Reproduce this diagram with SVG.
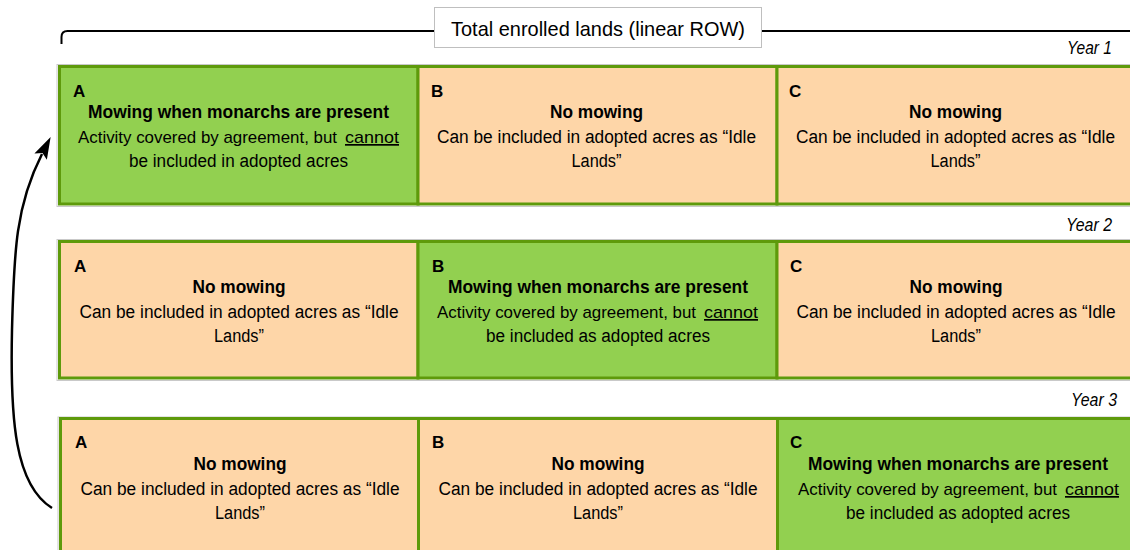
<svg xmlns="http://www.w3.org/2000/svg" width="1130" height="550" viewBox="0 0 1130 550">
<style>
.g{fill:#92D050;stroke:#5E9A0B;stroke-width:3}
.o{fill:#FED6A8;stroke:#5E9A0B;stroke-width:3}
.sh{fill:none;stroke:#C9C9C9;stroke-width:1}
.lbl{font-family:"Liberation Sans",Arial,sans-serif;font-weight:bold;font-size:17px;fill:#000}
.t{font-family:"Liberation Sans",Arial,sans-serif;font-weight:bold;font-size:18px;fill:#000;text-anchor:middle}
.b{font-family:"Liberation Sans",Arial,sans-serif;font-size:18px;fill:#000;text-anchor:middle}
.bs{font-family:"Liberation Sans",Arial,sans-serif;font-size:17px;fill:#000}
.u{text-decoration:underline}
.yr{font-family:"Liberation Sans",Arial,sans-serif;font-style:italic;font-size:18px;fill:#000;text-anchor:end}
.ttl{font-family:"Liberation Sans",Arial,sans-serif;font-size:21px;fill:#000;text-anchor:middle}
.ln{fill:none;stroke:#000;stroke-width:2}
</style>
<defs>
<marker id="ah" viewBox="0 0 22 14" refX="3" refY="7" markerWidth="22" markerHeight="14" markerUnits="userSpaceOnUse" orient="auto">
<path d="M0,0 L22,7 L0,14 L4,7 z" fill="#000"/>
</marker>
</defs>

<g id="connectors">
<path class="ln" d="M61.5,44 L61.5,37 Q61.5,31 67.5,31 H434"/>
<path class="ln" d="M762,31 H1130"/>
<path d="M52,508 C15,485 10,420 12,330 C14,250 16,205 42,154" fill="none" stroke="#000" stroke-width="2.5" marker-end="url(#ah)"/>
</g>

<g id="title">
<rect x="434.5" y="7.5" width="327" height="40" fill="#fff" stroke="#BFBFBF" stroke-width="1"/>
<text class="ttl" x="598" y="36" textLength="294" lengthAdjust="spacingAndGlyphs">Total enrolled lands (linear ROW)</text>
</g>

<g id="year-labels">
<text class="yr" x="1112" y="54" textLength="45" lengthAdjust="spacingAndGlyphs">Year 1</text>
<text class="yr" x="1112" y="231" textLength="46" lengthAdjust="spacingAndGlyphs">Year 2</text>
<text class="yr" x="1117" y="406" textLength="46" lengthAdjust="spacingAndGlyphs">Year 3</text>
</g>

<g id="row-outlines">
<rect class="sh" x="57" y="64.5" width="1080" height="142"/>
<rect class="sh" x="57" y="239.5" width="1080" height="141"/>
<rect class="sh" x="58" y="417" width="1080" height="150"/>
</g>

<!-- Year 1 -->
<g id="y1-a">
<rect class="g" x="59.5" y="66.5" width="358.5" height="137.5"/>
<text class="lbl" x="73" y="97">A</text>
<text class="t" x="238.5" y="118" textLength="301" lengthAdjust="spacingAndGlyphs">Mowing when monarchs are present</text>
<text class="bs" x="78" y="143" textLength="259" lengthAdjust="spacingAndGlyphs">Activity covered by agreement, but</text>
<text class="bs u" x="345" y="143" textLength="54" lengthAdjust="spacingAndGlyphs">cannot</text>
<text class="b" x="238.5" y="167" textLength="219" lengthAdjust="spacingAndGlyphs">be included in adopted acres</text>
</g>
<g id="y1-b">
<rect class="o" x="418" y="66.5" width="359" height="137.5"/>
<text class="lbl" x="431" y="97">B</text>
<text class="t" x="596.5" y="118" textLength="93" lengthAdjust="spacingAndGlyphs">No mowing</text>
<text class="b" x="596.5" y="143" textLength="319" lengthAdjust="spacingAndGlyphs">Can be included in adopted acres as “Idle</text>
<text class="b" x="596.5" y="167" textLength="50" lengthAdjust="spacingAndGlyphs">Lands”</text>
</g>
<g id="y1-c">
<rect class="o" x="777" y="66.5" width="365" height="137.5"/>
<text class="lbl" x="789" y="97">C</text>
<text class="t" x="955.5" y="118" textLength="93" lengthAdjust="spacingAndGlyphs">No mowing</text>
<text class="b" x="955.5" y="143" textLength="319" lengthAdjust="spacingAndGlyphs">Can be included in adopted acres as “Idle</text>
<text class="b" x="955.5" y="167" textLength="50" lengthAdjust="spacingAndGlyphs">Lands”</text>
</g>

<!-- Year 2 -->
<g id="y2-a">
<rect class="o" x="59.5" y="241.5" width="358.5" height="136.5"/>
<text class="lbl" x="74" y="272">A</text>
<text class="t" x="239" y="293" textLength="93" lengthAdjust="spacingAndGlyphs">No mowing</text>
<text class="b" x="239" y="318" textLength="319" lengthAdjust="spacingAndGlyphs">Can be included in adopted acres as “Idle</text>
<text class="b" x="239" y="342" textLength="50" lengthAdjust="spacingAndGlyphs">Lands”</text>
</g>
<g id="y2-b">
<rect class="g" x="418" y="241.5" width="359" height="136.5"/>
<text class="lbl" x="432" y="272">B</text>
<text class="t" x="598" y="293" textLength="300" lengthAdjust="spacingAndGlyphs">Mowing when monarchs are present</text>
<text class="bs" x="437" y="318" textLength="259" lengthAdjust="spacingAndGlyphs">Activity covered by agreement, but</text>
<text class="bs u" x="704" y="318" textLength="54" lengthAdjust="spacingAndGlyphs">cannot</text>
<text class="b" x="598" y="342" textLength="224" lengthAdjust="spacingAndGlyphs">be included as adopted acres</text>
</g>
<g id="y2-c">
<rect class="o" x="777" y="241.5" width="365" height="136.5"/>
<text class="lbl" x="790" y="272">C</text>
<text class="t" x="956" y="293" textLength="93" lengthAdjust="spacingAndGlyphs">No mowing</text>
<text class="b" x="956" y="318" textLength="319" lengthAdjust="spacingAndGlyphs">Can be included in adopted acres as “Idle</text>
<text class="b" x="956" y="342" textLength="50" lengthAdjust="spacingAndGlyphs">Lands”</text>
</g>

<!-- Year 3 -->
<g id="y3-a">
<rect class="o" x="60.5" y="418.5" width="358" height="145"/>
<text class="lbl" x="75" y="448">A</text>
<text class="t" x="240" y="470" textLength="93" lengthAdjust="spacingAndGlyphs">No mowing</text>
<text class="b" x="240" y="495" textLength="319" lengthAdjust="spacingAndGlyphs">Can be included in adopted acres as “Idle</text>
<text class="b" x="240" y="519" textLength="50" lengthAdjust="spacingAndGlyphs">Lands”</text>
</g>
<g id="y3-b">
<rect class="o" x="418.5" y="418.5" width="359" height="145"/>
<text class="lbl" x="432" y="448">B</text>
<text class="t" x="598" y="470" textLength="93" lengthAdjust="spacingAndGlyphs">No mowing</text>
<text class="b" x="598" y="495" textLength="319" lengthAdjust="spacingAndGlyphs">Can be included in adopted acres as “Idle</text>
<text class="b" x="598" y="519" textLength="50" lengthAdjust="spacingAndGlyphs">Lands”</text>
</g>
<g id="y3-c">
<rect class="g" x="777.5" y="418.5" width="365" height="145"/>
<text class="lbl" x="790" y="448">C</text>
<text class="t" x="958" y="470" textLength="300" lengthAdjust="spacingAndGlyphs">Mowing when monarchs are present</text>
<text class="bs" x="798" y="495" textLength="259" lengthAdjust="spacingAndGlyphs">Activity covered by agreement, but</text>
<text class="bs u" x="1065" y="495" textLength="54" lengthAdjust="spacingAndGlyphs">cannot</text>
<text class="b" x="958" y="519" textLength="224" lengthAdjust="spacingAndGlyphs">be included as adopted acres</text>
</g>
</svg>
